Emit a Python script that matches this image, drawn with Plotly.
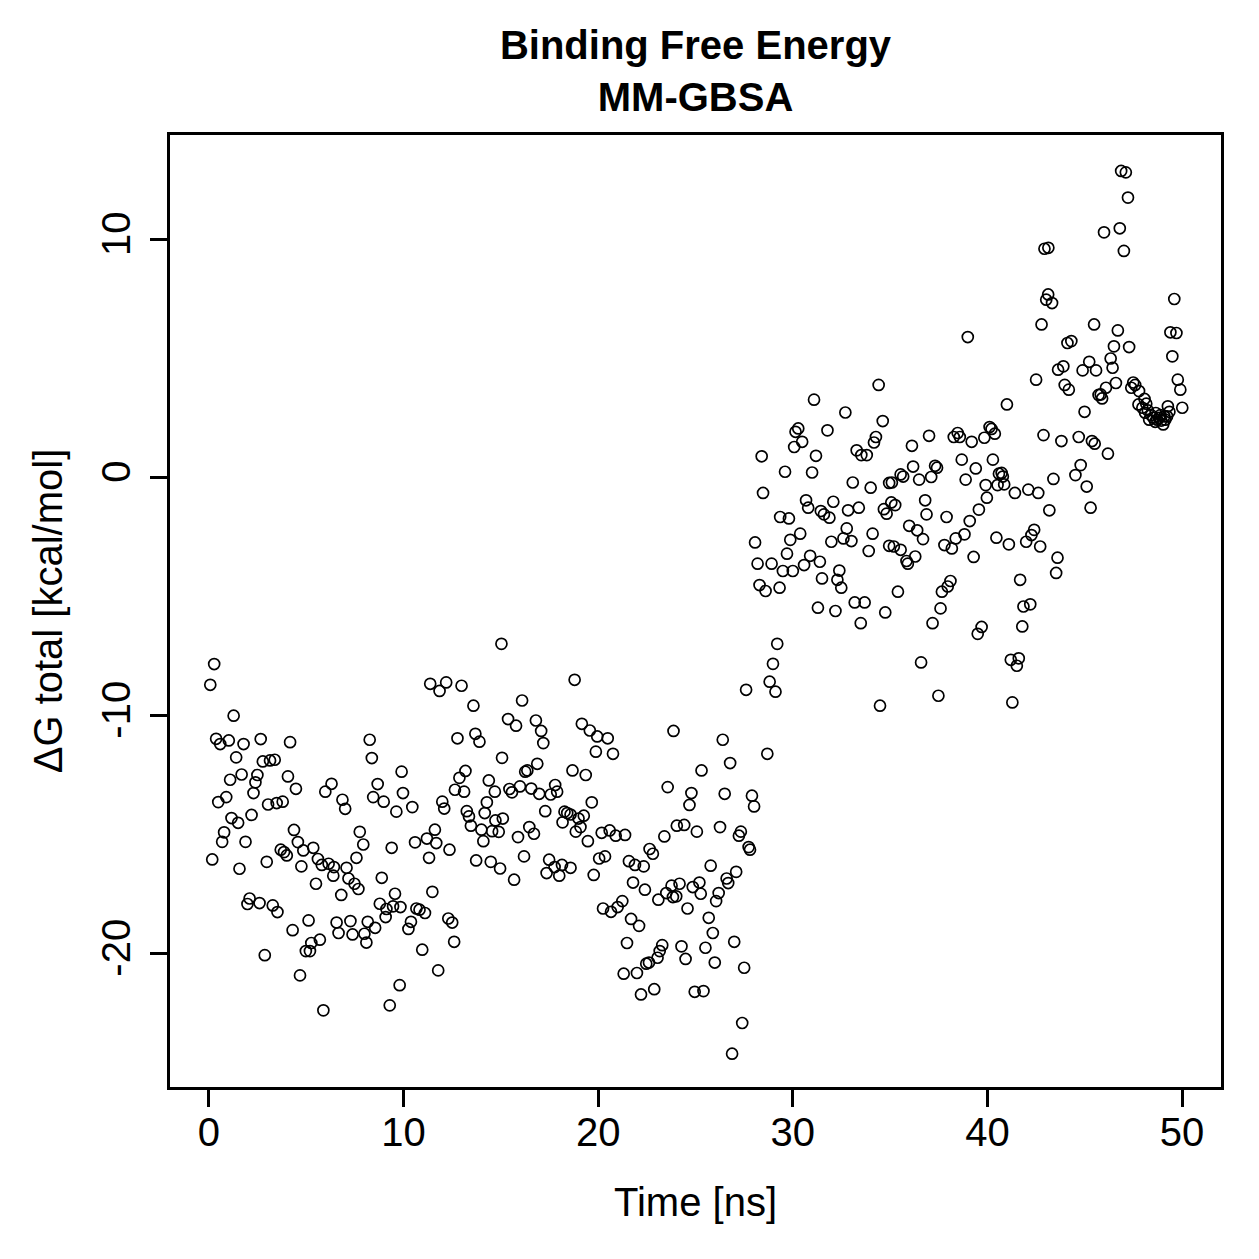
import plotly.graph_objects as go

# Time [ns]
time_ns = [
    0.07, 0.17, 0.27, 0.37, 0.48, 0.58, 0.68, 0.78, 0.89, 1.02,
    1.09, 1.16, 1.27, 1.40, 1.50, 1.57, 1.68, 1.78, 1.88, 1.98,
    2.09, 2.19, 2.29, 2.39, 2.49, 2.60, 2.66, 2.77, 2.87, 2.97,
    3.04, 3.14, 3.28, 3.38, 3.48, 3.52, 3.69, 3.79, 3.86, 4.00,
    4.06, 4.17, 4.30, 4.37, 4.47, 4.57, 4.68, 4.75, 4.85, 4.98,
    5.12, 5.19, 5.26, 5.36, 5.50, 5.60, 5.70, 5.80, 5.88, 5.98,
    6.15, 6.30, 6.39, 6.42, 6.56, 6.66, 6.80, 6.86, 7.00, 7.07,
    7.17, 7.27, 7.38, 7.48, 7.58, 7.68, 7.75, 7.93, 7.99, 8.09,
    8.16, 8.26, 8.37, 8.44, 8.54, 8.67, 8.78, 8.88, 8.98, 9.08,
    9.12, 9.29, 9.39, 9.46, 9.56, 9.63, 9.80, 9.84, 9.90, 9.97,
    10.25, 10.38, 10.45, 10.59, 10.66, 10.82, 10.96, 11.10, 11.20, 11.31,
    11.37, 11.48, 11.61, 11.68, 11.78, 11.85, 11.99, 12.09, 12.19, 12.30,
    12.36, 12.50, 12.60, 12.64, 12.77, 12.87, 12.98, 13.11, 13.18, 13.25,
    13.36, 13.46, 13.59, 13.69, 13.73, 13.90, 14.00, 14.10, 14.17, 14.28,
    14.38, 14.48, 14.55, 14.69, 14.72, 14.89, 14.96, 15.03, 15.06, 15.10,
    15.37, 15.44, 15.57, 15.68, 15.78, 15.88, 15.98, 16.09, 16.19, 16.25,
    16.36, 16.46, 16.56, 16.70, 16.80, 16.87, 16.97, 17.07, 17.18, 17.28,
    17.35, 17.48, 17.56, 17.76, 17.79, 17.89, 18.00, 18.14, 18.17, 18.27,
    18.41, 18.58, 18.58, 18.68, 18.79, 18.85, 18.99, 19.09, 19.16, 19.26,
    19.36, 19.47, 19.57, 19.67, 19.77, 19.88, 19.95, 20.05, 20.18, 20.25,
    20.35, 20.49, 20.59, 20.66, 20.76, 20.90, 21.00, 21.24, 21.31, 21.38,
    21.48, 21.58, 21.69, 21.79, 21.89, 21.99, 22.10, 22.20, 22.34, 22.40,
    22.47, 22.61, 22.64, 22.81, 22.88, 23.05, 23.09, 23.16, 23.29, 23.40,
    23.50, 23.57, 23.77, 23.84, 23.87, 24.01, 24.04, 24.18, 24.28, 24.42,
    24.49, 24.59, 24.69, 24.79, 24.86, 24.96, 25.07, 25.20, 25.27, 25.31,
    25.41, 25.51,
    25.68, 25.78, 25.89, 25.99, 26.06, 26.19, 26.26, 26.40, 26.50, 26.60,
    26.68, 26.78, 26.88, 26.99, 27.09, 27.23, 27.33, 27.40, 27.50, 27.60,
    27.73, 27.80, 27.90, 28.01,
    28.06, 28.19, 28.29, 28.40, 28.47, 28.60, 28.69, 28.81, 28.91, 28.98,
    29.11, 29.20, 29.32, 29.35, 29.49, 29.60, 29.70, 29.80, 29.87, 30.00,
    30.07, 30.14, 30.28, 30.38, 30.48, 30.58, 30.68, 30.79, 30.89, 30.99,
    31.09, 31.19, 31.29, 31.39, 31.44, 31.50, 31.60, 31.78, 31.88, 31.98,
    32.08, 32.19, 32.29, 32.39, 32.49, 32.60, 32.70, 32.77, 32.84, 33.01,
    33.08, 33.18, 33.28, 33.39, 33.49, 33.52, 33.69, 33.80, 33.90, 34.00,
    34.10, 34.17, 34.27, 34.41, 34.48, 34.62, 34.68, 34.75, 34.82, 34.95,
    34.95,
    35.06, 35.09, 35.19, 35.26, 35.40, 35.54, 35.54, 35.67, 35.84, 35.91,
    35.98, 36.12, 36.18, 36.29, 36.39, 36.49, 36.59, 36.69, 36.80, 36.87,
    37.00, 37.11, 37.18, 37.31, 37.41, 37.48, 37.59, 37.66, 37.79, 37.90,
    37.96, 38.10, 38.17, 38.27, 38.37, 38.47, 38.58, 38.68, 38.82, 38.88,
    38.99, 39.09, 39.19, 39.29, 39.40, 39.50, 39.56, 39.70, 39.84, 39.91,
    39.97, 40.11, 40.21, 40.28, 40.38, 40.46, 40.52, 40.59,
    40.73, 40.79, 40.86, 41.00, 41.10, 41.20, 41.28, 41.41, 41.51, 41.61,
    41.68, 41.79, 41.85, 41.99, 42.10, 42.20, 42.26, 42.40, 42.50, 42.61,
    42.71, 42.78, 42.88, 42.93, 43.02, 43.12, 43.13, 43.18, 43.32, 43.39,
    43.53, 43.60, 43.63, 43.80, 43.90, 43.97, 44.11, 44.18, 44.31, 44.52,
    44.69, 44.79, 44.89, 44.99, 45.10, 45.23, 45.30, 45.37, 45.48, 45.51,
    45.58, 45.71,
    45.82, 45.89, 45.99, 46.09, 46.19, 46.33, 46.43, 46.50, 46.60, 46.70,
    46.80, 46.87, 47.01, 47.11, 47.22, 47.28, 47.39, 47.49, 47.59, 47.76,
    47.79, 47.96, 48.07, 48.10, 48.16, 48.24, 48.31, 48.41, 48.52, 48.62,
    48.65, 48.72, 48.82, 48.89, 48.93, 49.03, 49.09, 49.14, 49.23, 49.27,
    49.35, 49.40, 49.50, 49.60, 49.71, 49.78, 49.91, 50.01,
]

# Delta G total [kcal/mol]
dg_total = [
    -8.70, -16.04, -7.83, -10.97, -13.63, -11.19, -15.30, -14.90, -13.42, -11.04,
    -12.69, -14.30, -10.00, -11.75, -14.50, -16.43, -12.47, -11.19, -15.30, -17.91,
    -17.68, -14.17, -13.25, -12.80, -12.49, -17.87, -10.98, -11.92, -20.06, -16.14,
    -13.73, -11.88, -17.97, -11.85, -13.67, -18.25, -15.63, -13.61, -15.73, -15.87,
    -12.55, -11.11, -19.01, -14.80, -13.07, -15.31, -20.91, -16.33, -15.66, -19.89,
    -18.60, -19.89, -19.55, -15.55, -17.06, -16.02, -19.41, -16.27, -22.38, -13.19,
    -16.22, -12.86, -16.72, -16.36, -18.69, -19.13, -17.53, -13.53, -13.91, -16.39,
    -16.84, -18.63, -19.19, -17.06, -15.97, -17.28, -14.88, -15.41, -19.16, -19.53,
    -18.66, -11.01, -11.78, -13.42, -18.91, -12.87, -17.90, -16.81, -13.61, -18.46,
    -18.12, -22.17, -15.55, -18.01, -17.48, -14.03, -21.32, -18.04, -12.35, -13.25,
    -18.96, -18.66, -13.84, -15.32, -18.10, -18.15, -19.83, -18.29, -15.16, -15.97,
    -8.66, -17.40, -14.79, -15.35, -20.70, -8.96, -13.61, -13.90, -8.60, -18.52,
    -15.63, -18.69, -19.50, -13.11, -10.95, -12.61, -8.74, -13.19, -12.32, -14.01,
    -14.23, -14.62, -9.58, -10.76, -16.08, -11.09, -14.79, -15.27, -14.09, -13.64,
    -12.72, -16.14, -14.85, -13.19, -14.40, -14.88, -16.42, -6.98, -11.77, -14.32,
    -10.14, -13.08, -13.22, -16.89, -10.42, -15.10, -12.97, -9.36, -15.91, -12.35,
    -12.30, -14.68, -13.06, -14.96, -10.20, -12.02, -13.28, -10.64, -11.15, -14.01,
    -16.61, -16.05, -13.31, -16.36, -12.91, -13.19, -16.72, -16.27, -14.48, -14.03,
    -14.09, -14.15, -16.39, -12.30, -8.49, -14.87, -14.32, -14.68, -10.34, -14.20,
    -12.49, -15.27, -10.62, -13.64, -16.69, -11.51, -10.87, -16.00, -14.92, -18.10,
    -15.91, -10.95, -14.82, -18.24, -11.60, -15.04, -18.04, -17.79, -20.84, -15.01,
    -19.55, -16.11, -18.54, -17.01, -16.27, -20.81, -18.83, -21.71, -16.33, -17.31,
    -20.42, -20.37, -15.60, -15.80, -21.49, -20.17, -17.73, -19.89, -19.64, -15.07,
    -17.45, -13.00, -17.14, -17.62, -10.64, -17.59, -14.62, -17.06, -19.69, -14.59,
    -20.22, -18.10, -13.75, -13.25, -17.20, -21.60, -14.87, -17.01, -17.48, -12.30,
    -21.57, -19.75,
    -18.49, -16.30, -19.13, -20.37, -17.79, -17.45, -14.68, -11.01, -13.28, -16.84,
    -17.03, -11.99, -24.20, -19.50, -16.56, -15.04, -14.87, -22.91, -20.59, -8.91,
    -15.52, -15.63, -13.36, -13.81,
    -2.72, -3.61, -4.51, 0.90, -0.64, -4.76, -11.60, -8.57, -3.61, -7.82,
    -8.99, -6.98, -4.62, -1.65, -3.92, 0.25, -3.19, -1.71, -2.61, -3.92,
    1.29, 1.93, 2.07, -2.35, 1.51, -3.67, -0.95, -1.26, -3.28, 0.22,
    3.28, 0.92, -5.46, -3.53, -1.40, -4.23, -1.54, 1.99, -1.68, -2.69,
    -1.01, -5.60, -4.29, -3.90, -4.62, -2.55, 2.74, -2.13, -1.37, -2.66,
    -0.20, -5.24, 1.15, -1.26, -6.11, 0.95, -5.24, 0.95, -3.08, -0.42,
    -2.35, 1.48, 1.71, 3.90, -9.58, 2.38, -1.32, -5.66, -1.51, -2.86,
    -0.22,
    -1.04, -0.20, -2.89, -1.15, -4.79, 0.14, -3.03, 0.05, -3.50, -3.61,
    -2.02, 1.34, 0.47, -3.31, -2.21, -0.08, -7.76, -2.58, -0.95, -1.54,
    1.76, 0.03, -6.11, 0.50, 0.42, -9.16, -5.49, -4.79, -2.83, -1.65,
    -4.57, -4.34, -2.97, 1.71, -2.55, 1.88, 1.71, 0.76, -2.38, -0.08,
    5.91, -1.82, 1.51, -3.33, 0.39, -6.56, -1.34, -6.27, 1.68, -0.31,
    -0.84, 2.13, 2.05, 0.76, 1.85, -2.52, -0.31, 0.17,
    0.20, 0.05, -0.28, 3.08, -2.80, -7.65, -9.44, -0.64, -7.90, -7.59,
    -4.29, -6.25, -5.41, -2.69, -0.50, -5.32, -2.41, -2.19, 4.12, -0.64,
    -2.89, 6.44, 1.79, 9.62, 7.48, 7.70, 9.66, -1.37, 7.34, -0.05,
    -4.00, -3.36, 4.54, 1.54, 4.68, 3.90, 5.66, 3.70, 5.74, 0.11,
    1.71, 0.53, 4.51, 2.77, -0.37, 4.87, -1.26, 1.54, 6.44, 1.43,
    4.51, 3.48,
    3.50, 3.33, 10.31, 3.78, 1.01, 5.01, 4.62, 5.52, 3.98, 6.19,
    10.48, 12.89, 9.53, 12.83, 11.77, 5.49, 3.78, 4.00, 3.90, 3.08,
    3.64, 2.94, 3.31, 2.73, 3.11, 2.83, 2.44, 2.63, 2.52, 2.35,
    2.72, 2.44, 2.52, 2.63, 2.40, 2.24, 2.58, 2.44, 2.58, 3.00,
    2.77, 6.11, 5.10, 7.51, 6.08, 4.12, 3.70, 2.94,
]

x_ticks = [0, 10, 20, 30, 40, 50]
y_ticks = [-20, -10, 0, 10]

assert len(time_ns) == len(dg_total), (len(time_ns), len(dg_total))

FONT = "Liberation Sans, Arial, Helvetica, sans-serif"

fig = go.Figure(
    go.Scatter(
        x=time_ns,
        y=dg_total,
        mode="markers",
        marker=dict(symbol="circle-open", size=11, color="black",
                    line=dict(width=1.7, color="black")),
        showlegend=False,
    )
)

axis_common = dict(
    showline=True, linewidth=3, linecolor="black", mirror=True,
    ticks="outside", ticklen=17, tickwidth=3, tickcolor="black",
    showgrid=False, zeroline=False,
    tickfont=dict(family=FONT, size=40, color="black"),
)

fig.update_layout(
    width=1259, height=1259,
    margin=dict(l=170, r=38, t=135, b=172),
    paper_bgcolor="white", plot_bgcolor="white",
    font=dict(family=FONT, size=40, color="black"),
    title=dict(
        text="<b>Binding Free Energy<br>MM-GBSA</b>",
        x=0.5, xref="paper", xanchor="center",
        y=0.953, yref="container", yanchor="top",
        font=dict(family=FONT, size=40, color="black"),
    ),
    xaxis=dict(
        range=[-2, 52], tickvals=x_ticks, ticktext=[str(v) for v in x_ticks],
        title=dict(text="Time [ns]", standoff=35,
                   font=dict(family=FONT, size=40, color="black")),
        ticklabelstandoff=-9,
        **axis_common,
    ),
    yaxis=dict(
        range=[-25.6, 14.4], tickvals=y_ticks, ticktext=[str(v) for v in y_ticks],
        tickangle=-90,
        title=dict(text="ΔG total [kcal/mol]", standoff=20,
                   font=dict(family=FONT, size=40, color="black")),
        ticklabelstandoff=4,
        **axis_common,
    ),
)

fig.write_html("out.html")
